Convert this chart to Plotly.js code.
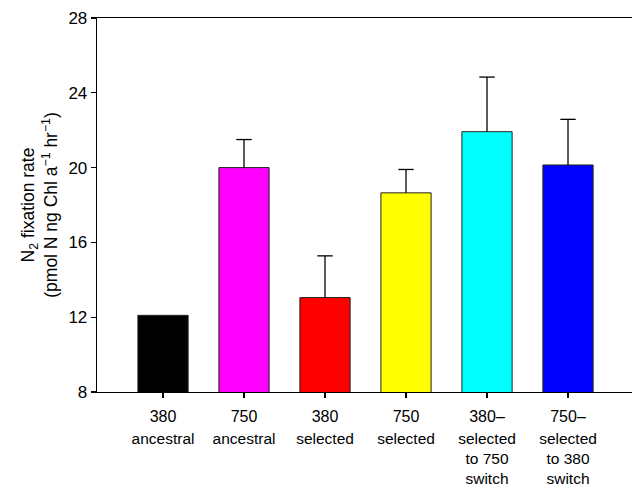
<!DOCTYPE html>
<html>
<head>
<meta charset="utf-8">
<script src="https://cdn.plot.ly/plotly-3.0.1.min.js"></script>
<style>html,body{margin:0;padding:0;background:#fff;}#chart{width:632px;height:489px;}</style>
</head>
<body>
<div id="chart"></div>
<script>
const categories = ["380 ancestral", "750 ancestral", "380 selected", "750 selected", "380–750 switch", "750–380 switch"];
const tickLine1 = ["380", "750", "380", "750", "380–", "750–"];
const tickRest = ["ancestral", "ancestral", "selected", "selected", "selected<br>to 750<br>switch", "selected<br>to 380<br>switch"];
const values = [12.1, 20.0, 13.05, 18.65, 21.92, 20.14];
const errorsUp = [null, 1.5, 2.23, 1.25, 2.92, 2.44];
const colors = ["#000000", "#ff00ff", "#ff0000", "#ffff00", "#00ffff", "#0000ff"];
const yTicks = [8, 12, 16, 20, 24, 28];

const xs = categories.map((c, i) => i);
const font = "Liberation Sans, Arial, Helvetica, sans-serif";

// error bar stems (upward only) built from data arrays
const stemX = [], stemY = [], capX = [], capY = [];
xs.forEach((x, i) => {
  if (errorsUp[i] == null) return;
  stemX.push(x, x, null);
  stemY.push(values[i], values[i] + errorsUp[i], null);
  capX.push(x);
  capY.push(values[i] + errorsUp[i]);
});

const traces = [
  {
    type: "bar",
    x: xs,
    y: values,
    width: 0.62,
    marker: {color: colors, line: {color: "#222", width: 1}},
    hoverinfo: "x+y",
    showlegend: false
  },
  {
    type: "scatter", mode: "lines", x: stemX, y: stemY,
    line: {color: "#000", width: 1.3}, hoverinfo: "skip", showlegend: false, cliponaxis: false
  },
  {
    type: "scatter", mode: "markers", x: capX, y: capY,
    marker: {symbol: "line-ew", size: 11, line: {color: "#000", width: 1.3}},
    hoverinfo: "skip", showlegend: false, cliponaxis: false
  },
  {
    type: "scatter", mode: "markers", x: xs, y: values, xaxis: "x2", yaxis: "y",
    marker: {opacity: 0}, hoverinfo: "skip", showlegend: false
  }
];

const layout = {
  width: 632, height: 489,
  margin: {l: 97, r: 0, t: 18, b: 97},
  paper_bgcolor: "#fff", plot_bgcolor: "#fff",
  font: {family: font, color: "#000", size: 16},
  xaxis: {
    range: [-0.815, 5.79],
    tickmode: "array", tickvals: xs, ticktext: tickLine1,
    ticks: "outside", ticklen: 5, tickwidth: 1.2, tickcolor: "#000",
    showline: true, linecolor: "#000", linewidth: 1.3, mirror: true,
    showgrid: false, zeroline: false, fixedrange: true,
    tickfont: {size: 16, family: font},
    ticklabelstandoff: 4
  },
  xaxis2: {
    overlaying: "x", anchor: "y", side: "bottom",
    range: [-0.815, 5.79],
    tickmode: "array", tickvals: xs, ticktext: tickRest,
    ticks: "", showline: false, showgrid: false, zeroline: false,
    tickfont: {size: 15.5, family: font},
    ticklabelstandoff: 35
  },
  yaxis: {
    range: [8, 28],
    tickmode: "array", tickvals: yTicks,
    ticks: "outside", ticklen: 5, tickwidth: 1.2, tickcolor: "#000",
    showline: true, linecolor: "#000", linewidth: 1.3, mirror: false,
    showgrid: false, zeroline: false, fixedrange: true,
    tickfont: {size: 17, family: font},
    title: {text: "N<sub>2</sub> fixation rate<br>(pmol N ng Chl a<sup>−1</sup> hr<sup>−1</sup>)",
            font: {size: 17.5, family: font}, standoff: 6}
  }
};

Plotly.newPlot("chart", traces, layout, {displayModeBar: false, staticPlot: true});
</script>
</body>
</html>
